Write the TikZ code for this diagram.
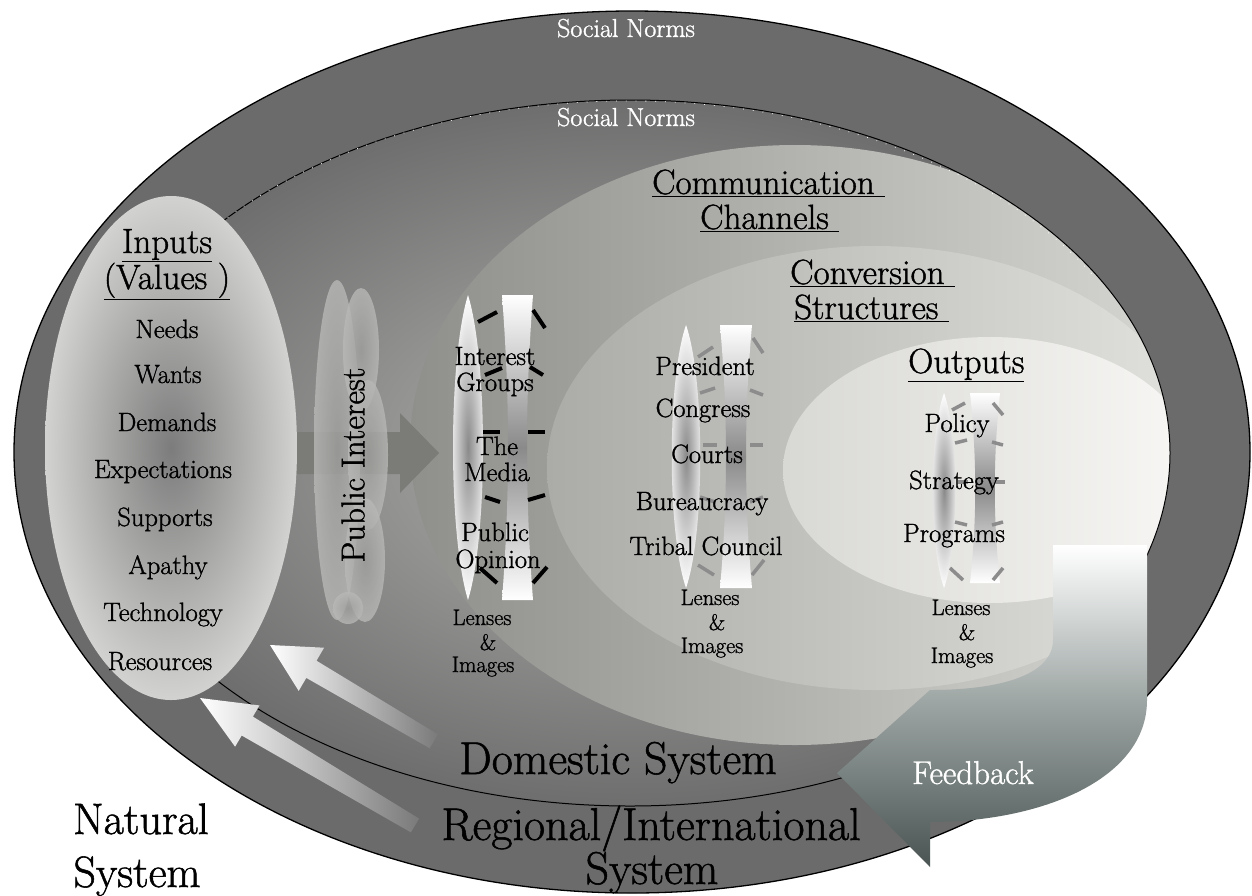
\documentclass[tikz,border=0pt]{standalone}
\usepackage{fontspec}
\setmainfont{Latin Modern Roman}[FakeBold=1.2]
\definecolor{band}{HTML}{6B6B6B}
\definecolor{domin}{HTML}{B2B2B0}
\definecolor{domout}{HTML}{6E6E6E}
\definecolor{comml}{HTML}{8F908C}
\definecolor{commr}{HTML}{D6D6D2}
\definecolor{convl}{HTML}{ABACA8}
\definecolor{convr}{HTML}{E2E2DE}
\definecolor{outl}{HTML}{D8D8D4}
\definecolor{outr}{HTML}{F8F7F5}
\definecolor{inin}{HTML}{7C7C7C}
\definecolor{inout}{HTML}{D2D3D0}
\definecolor{garrow}{HTML}{7B7C78}
\definecolor{cloudin}{HTML}{9E9E9C}
\definecolor{cloudout}{HTML}{B8B8B6}
\definecolor{lensg}{HTML}{8A8A8A}
\definecolor{dashg}{HTML}{8C8C8C}
\definecolor{fbmid}{HTML}{9AA3A1}
\definecolor{fbbot}{HTML}{4A5553}
\definecolor{warrowend}{HTML}{7A7A7A}
\begin{document}
\begin{tikzpicture}[x=1pt,y=-1pt,
  txt/.style={inner sep=0pt, anchor=base},
  item/.style={txt, font=\fontsize{26.5}{30}\selectfont},
  lensl/.style={txt, font=\fontsize{26.5}{30}\selectfont},
  lensi/.style={txt, font=\fontsize{22.5}{26}\selectfont},
  ttl/.style={inner sep=0pt, anchor=base west, font=\fontsize{35}{40}\selectfont},
  ttlc/.style={txt, font=\fontsize{35}{40}\selectfont},
  big/.style={txt, font=\fontsize{46}{52}\selectfont},
  nat/.style={txt, font=\fontsize{44}{50}\selectfont},
  norm/.style={txt, text=white, font=\fontsize{26}{30}\selectfont},
  lensshade/.style={inner color=lensg, outer color=white},
  rectshade/.style={top color=white, bottom color=white, middle color=lensg},
  dk/.style={line width=4pt, black},
  dg/.style={line width=3.5pt, dashg},
  cloudlobe/.style={inner color=cloudin, outer color=cloudout, fill opacity=0.8},
]
\useasboundingbox (0,0) rectangle (1252,895);
\fill[white] (0,0) rectangle (1252,895);
% outer (regional / international) ellipse
\filldraw[fill=band, draw=black, line width=1.3pt] (632,452) ellipse [x radius=618pt, y radius=441pt];
% domestic ellipse
\shade[inner color=domin, outer color=domout] (630,453) ellipse [x radius=540pt, y radius=353pt];
\begin{scope}
\clip (630,453) ellipse [x radius=540pt, y radius=353pt];
\shade[left color=comml, right color=commr] (795,445) ellipse [x radius=385pt, y radius=300pt];
\shade[left color=convl, right color=convr] (875,468) ellipse [x radius=328pt, y radius=222pt];
\shade[left color=outl, right color=outr] (990,470) ellipse [x radius=207pt, y radius=133pt];
\end{scope}
\draw[black, line width=1pt] (630,453) ellipse [x radius=540pt, y radius=353pt];
\draw[white, line width=0.8pt, dash pattern=on 0.8pt off 9pt] (630,453) ++(150:540pt and 353pt) arc [start angle=150, end angle=30, x radius=538pt, y radius=351pt];
% inputs ellipse
\shade[inner color=inin, outer color=inout] (171,448) ellipse [x radius=126pt, y radius=252pt];
% grey arrow inputs -> channels
\fill[garrow] (297,432) -- (400,432) -- (400,413) -- (439,453) -- (400,493) -- (400,474) -- (297,474) -- cycle;
% public interest cloud
\shade[cloudlobe] (337,450) ellipse [x radius=23pt, y radius=170pt];
\shade[cloudlobe] (361,350) ellipse [x radius=18pt, y radius=62pt];
\shade[cloudlobe] (368,455) ellipse [x radius=20pt, y radius=75pt];
\shade[cloudlobe] (365,560) ellipse [x radius=20pt, y radius=62pt];
\shade[cloudlobe] (348,608) ellipse [x radius=15pt, y radius=16pt];
\node[rotate=90, inner sep=0pt, font=\fontsize{33}{37}\selectfont] (pubi) at (353,465) {Public Interest};
% lens group 1
\shade[lensshade] (468,295) .. controls (488,360) and (488,535) .. (468,600) .. controls (448,535) and (448,360) .. (468,295) -- cycle;
\shade[rectshade] (502,295) -- (533,295) .. controls (525,400) and (525,495) .. (533,600) -- (502,600) .. controls (510,495) and (510,400) .. (502,295) -- cycle;
\draw[dk] (478,322) -- (497,312);  \draw[dk] (533,310) -- (545,328);
\draw[dk] (485,375) -- (502,368);  \draw[dk] (530,367) -- (543,375);
\draw[dk] (483,432) -- (500,432);  \draw[dk] (528,432) -- (545,432);
\draw[dk] (485,497) -- (500,502);  \draw[dk] (528,500) -- (545,495);
\draw[dk] (480,568) -- (497,583);  \draw[dk] (533,583) -- (547,567);
% lens group 2
\shade[lensshade] (686,325) .. controls (705,380) and (705,533) .. (686,588) .. controls (667,533) and (667,380) .. (686,325) -- cycle;
\shade[rectshade] (720,325) -- (752,325) .. controls (744,415) and (744,498) .. (752,588) -- (720,588) .. controls (728,498) and (728,415) .. (720,325) -- cycle;
\draw[dg] (698,357) -- (713,347);  \draw[dg] (753,338) -- (763,353);
\draw[dg] (700,393) -- (715,388);  \draw[dg] (750,390) -- (763,395);
\draw[dg] (703,445) -- (717,445);  \draw[dg] (750,445) -- (763,445);
\draw[dg] (700,497) -- (715,502);  \draw[dg] (750,502) -- (763,497);
\draw[dg] (698,565) -- (714,575);  \draw[dg] (752,575) -- (764,560);
% lens group 3
\shade[lensshade] (944,393) .. controls (959,435) and (959,546) .. (944,588) .. controls (929,546) and (929,435) .. (944,393) -- cycle;
\shade[rectshade] (970,393) -- (1000,393) .. controls (993,460) and (993,518) .. (1000,583) -- (970,583) .. controls (977,518) and (977,460) .. (970,393) -- cycle;
\draw[dg] (952,410) -- (965,403);  \draw[dg] (993,403) -- (1003,415);
\draw[dg] (955,443) -- (967,440);  \draw[dg] (992,442) -- (1003,445);
\draw[dg] (958,482) -- (968,482);  \draw[dg] (993,482) -- (1005,482);
\draw[dg] (955,522) -- (967,525);  \draw[dg] (992,525) -- (1003,522);
\draw[dg] (950,568) -- (963,580);  \draw[dg] (1003,568) -- (993,580);
% white arrows (natural / regional inputs)
\shade[left color=white, right color=warrowend] (270,645) -- (324.1,647.7) -- (316.5,660.7) -- (437.9,734.4) -- (429.7,748.2) -- (306.3,677.9) -- (298.7,690.9) -- cycle;
\shade[left color=white, right color=warrowend] (200,698) -- (259.5,705.4) -- (252.9,716.6) -- (419.1,818.6) -- (410.9,832.4) -- (241.7,735.5) -- (235.1,746.7) -- cycle;
% feedback arrow
\shade[top color=white, bottom color=fbbot, middle color=fbmid] (1053,545) -- (1053,640) .. controls (1053,675) and (1000,690) .. (930,690) -- (837,773) -- (930,867) -- (930,822) .. controls (1040,822) and (1147,780) .. (1147,700) -- (1147,545) -- cycle;
\node[txt, text=white, font=\fontsize{33}{37}\selectfont] (fb) at (973,784) {Feedback};
% social norms
\node[norm] (sn1) at (626,37) {Social Norms};
\node[norm] (sn2) at (626,126) {Social Norms};
% titles
\node[ttl] (comm) at (652,194) {\underline{Communication\ }};
\node[ttl] (chan) at (700,229) {\underline{Channels\ }};
\node[ttl] (conv) at (790,284) {\underline{Conversion\ }};
\node[ttl] (stru) at (794,319) {\underline{Structures\ }};
\node[ttl] (outp) at (908,373) {\underline{Outputs}};
\node[ttlc] (inp) at (167,253) {\underline{Inputs}};
\node[ttlc] (val) at (167,289) {\underline{(Values )}};
% input items
\node[item] (i1) at (167,338) {Needs};
\node[item] (i2) at (168,383) {Wants};
\node[item] (i3) at (167,431) {Demands};
\node[item] (i4) at (163,478) {Expectations};
\node[item] (i5) at (165,526) {Supports};
\node[item] (i6) at (168,574) {Apathy};
\node[item] (i7) at (163,621) {Technology};
\node[item] (i8) at (160,670) {Resources};
% channel labels
\node[lensl] (c1) at (495,365) {Interest};
\node[lensl] (c2) at (495,391) {Groups};
\node[lensl] (c3) at (497,455) {The};
\node[lensl] (c4) at (497,481) {Media};
\node[lensl] (c5) at (495,541) {Public};
\node[lensl] (c6) at (498,568) {Opinion};
\node[lensi] (c7) at (482,625) {Lenses};
\node[lensi] (c8) at (488,650) {\&};
\node[lensi] (c9) at (483,672) {Images};
% conversion labels
\node[lensl] (s1) at (705,375) {President};
\node[lensl] (s2) at (703,417) {Congress};
\node[lensl] (s3) at (707,463) {Courts};
\node[lensl] (s4) at (702,510) {Bureaucracy};
\node[lensl] (s5) at (706,555) {Tribal Council};
\node[lensi] (s6) at (710,605) {Lenses};
\node[lensi] (s7) at (717,630) {\&};
\node[lensi] (s8) at (712,653) {Images};
% output labels
\node[lensl] (o1) at (957,432) {Policy};
\node[lensl] (o2) at (954,489) {Strategy};
\node[lensl] (o3) at (954,542) {Programs};
\node[lensi] (o4) at (961,615) {Lenses};
\node[lensi] (o5) at (967,640) {\&};
\node[lensi] (o6) at (962,663) {Images};
% system labels
\node[big] (dom) at (618,774) {Domestic System};
\node[big] (reg1) at (651,840) {Regional/International};
\node[big] (reg2) at (652,884) {System};
\node[nat] (nat1) at (141,834) {Natural};
\node[nat] (nat2) at (137,887) {System};
\end{tikzpicture}
\end{document}
